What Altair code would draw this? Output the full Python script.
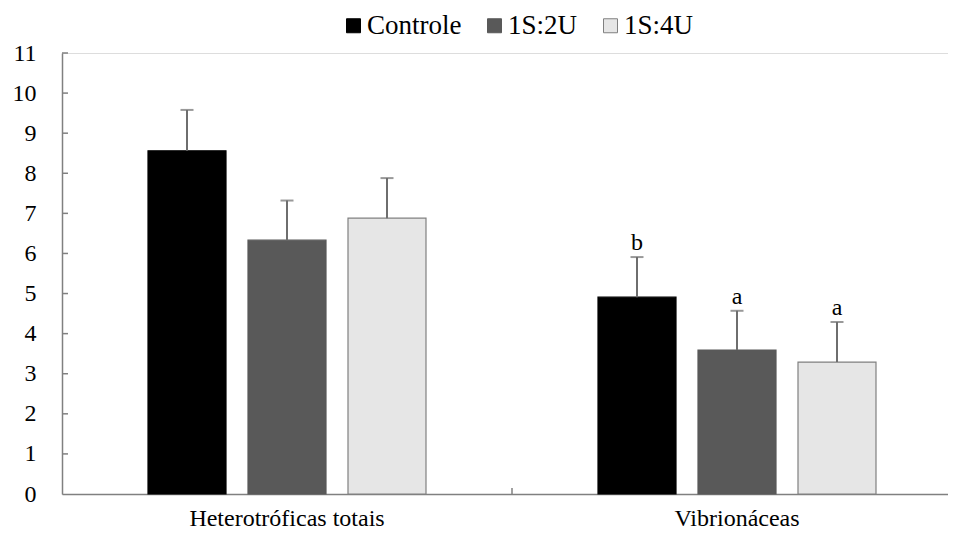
import altair as alt
import pandas as pd

groups = ["Heterotróficas totais", "Vibrionáceas"]
series = ["Controle", "1S:2U", "1S:4U"]
means = {
    "Controle": [8.56, 4.91],
    "1S:2U": [6.33, 3.59],
    "1S:4U": [6.88, 3.29],
}
errors = {
    "Controle": [1.02, 1.0],
    "1S:2U": [0.99, 0.98],
    "1S:4U": [1.0, 1.0],
}
letters = {
    "Controle": ["", "b"],
    "1S:2U": ["", "a"],
    "1S:4U": ["", "a"],
}
y_ticks = list(range(0, 12))

fills = ["#000000", "#595959", "#e6e6e6"]
strokes = ["#000000", "#595959", "#808080"]

rows = []
for s in series:
    for i, g in enumerate(groups):
        rows.append({
            "grupo": g, "serie": s, "media": means[s][i],
            "topo": means[s][i] + errors[s][i], "letra": letters[s][i],
        })
df = pd.DataFrame(rows)

W, H = 900, 441
FONT = "Liberation Serif"

x = alt.X("grupo:N", sort=groups, title=None,
          scale=alt.Scale(paddingInner=0, paddingOuter=0),
          axis=alt.Axis(labelAngle=0, ticks=False, labelFontSize=24, labelFont=FONT,
                        labelColor="#000", labelPadding=31, labelBaseline="alphabetic",
                        labelLimit=400, domainColor="#808080", domainWidth=1.5))
xo = alt.XOffset("serie:N", sort=series,
                 scale=alt.Scale(paddingInner=0.22, paddingOuter=0.86))
yscale = alt.Scale(domain=[0, 11], nice=False, zero=True)
y = alt.Y("media:Q", scale=yscale, title=None,
          axis=alt.Axis(values=y_ticks, grid=False, ticks=False, labelFontSize=24,
                        labelFont=FONT, labelColor="#000", labelPadding=26,
                        domainColor="#808080", domainWidth=1.5))

base = alt.Chart(df)

bars = base.mark_bar(strokeWidth=1.2).encode(
    x=x, xOffset=xo, y=y,
    color=alt.Color("serie:N", sort=series, title=None,
                    scale=alt.Scale(domain=series, range=fills),
                    legend=alt.Legend(orient="none", direction="horizontal",
                                      legendX=278, legendY=-41, symbolType="square",
                                      symbolSize=196, labelFontSize=27, labelFont=FONT,
                                      labelColor="#000", labelOffset=0, columnPadding=19,
                                      padding=0, symbolStrokeWidth=1)),
    stroke=alt.Stroke("serie:N", sort=series, title=None,
                      scale=alt.Scale(domain=series, range=strokes)),
)

err = base.mark_rule(color="#6e6e6e", strokeWidth=2).encode(
    x=x, xOffset=xo, y=alt.Y("media:Q", scale=yscale), y2="topo:Q")

caps = base.mark_tick(color="#6e6e6e", thickness=2, size=13).encode(
    x=x, xOffset=xo, y=alt.Y("topo:Q", scale=yscale))

txt = base.mark_text(font=FONT, fontSize=24, color="#000", baseline="alphabetic",
                     dy=-7).encode(
    x=x, xOffset=xo, y=alt.Y("topo:Q", scale=yscale), text="letra:N")

tick_df = pd.DataFrame({"v": y_ticks[1:]})
yticks = alt.Chart(tick_df).mark_rule(color="#808080", strokeWidth=1.5).encode(
    y=alt.Y("v:Q", scale=yscale), x=alt.value(0), x2=alt.value(6))

midtick = alt.Chart(pd.DataFrame({"g": [groups[1]]})).mark_rule(
    color="#808080", strokeWidth=1.5).encode(
    x=alt.value(W / 2), y=alt.value(H - 6), y2=alt.value(H))

chart = alt.layer(bars, err, caps, txt, yticks, midtick).properties(
    width=W, height=H,
    autosize=alt.AutoSizeParams(type="none"),
    padding={"left": 54, "top": 45, "right": -14, "bottom": 37},
).configure_view(stroke=None).configure(background="white")

chart.save("out.html", embed_options={"renderer": "svg", "actions": False})
